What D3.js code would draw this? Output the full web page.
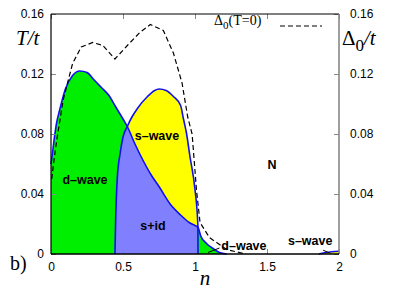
<!DOCTYPE html>
<html>
<head>
<meta charset="utf-8">
<script src="https://cdn.jsdelivr.net/npm/d3@7"></script>
<style>
  body { margin: 0; background: #fff; }
  svg { display: block; }
</style>
</head>
<body>
<div id="chart"></div>
<script>
// d-wave Tc(n)
const nD  = [0, 0.01, 0.02, 0.04, 0.06, 0.1, 0.15, 0.2, 0.25, 0.3, 0.35, 0.4, 0.45, 0.5, 0.53, 0.58, 0.62, 0.7, 0.75, 0.83, 0.9, 0.96, 1.0, 1.02, 1.04, 1.08, 1.12, 1.17, 1.22];
const tcD = [0.06, 0.067, 0.075, 0.088, 0.096, 0.11, 0.119, 0.122, 0.121, 0.116, 0.111, 0.106, 0.098, 0.09, 0.085, 0.074, 0.066, 0.052, 0.045, 0.033, 0.026, 0.021, 0.019, 0.018, 0.012, 0.007, 0.004, 0.001, 0];

// s-wave Tc(n), two pockets
const nS  = [0.444, 0.45, 0.46, 0.48, 0.5, 0.53, 0.56, 0.6, 0.67, 0.72, 0.75, 0.8, 0.85, 0.9, 0.92, 0.94, 0.965, 1.0, 1.02, 1.021];
const tcS = [0, 0.027, 0.05, 0.067, 0.078, 0.085, 0.091, 0.097, 0.105, 0.109, 0.11, 0.109, 0.105, 0.099, 0.09, 0.081, 0.065, 0.043, 0.019, 0];
const nS2  = [1.86, 1.9, 1.95, 2.0];
const tcS2 = [0, 0.0008, 0.0015, 0.0018];

// zero-temperature gap
const nG = [0.005, 0.02, 0.04, 0.085, 0.15, 0.21, 0.29, 0.36, 0.444, 0.53, 0.62, 0.69, 0.78, 0.85, 0.91, 0.95, 0.98, 1.01, 1.035, 1.1, 1.22, 1.35];
const gap = [0.05, 0.062, 0.076, 0.103, 0.127, 0.138, 0.141, 0.139, 0.13, 0.139, 0.148, 0.153, 0.149, 0.134, 0.114, 0.091, 0.08, 0.043, 0.021, 0.011, 0.003, 0];

const xTicks = [0, 0.5, 1, 1.5, 2];
const yTicks = [0, 0.04, 0.08, 0.12, 0.16];

const phaseLabels = [
  { text: "d\u2013wave", n: 0.236, t: 0.0467 },
  { text: "s\u2013wave", n: 0.736, t: 0.076 },
  { text: "s+id",        n: 0.708, t: 0.016 },
  { text: "N",           n: 1.535, t: 0.0567 },
  { text: "d\u2013wave", n: 1.34,  t: 0.0027 },
  { text: "s\u2013wave", n: 1.8,   t: 0.006 }
];
// little pointer lines from labels to the tails
const pointers = [
  { n1: 1.17, t1: 0.004, n2: 1.09, t2: 0.001 },
  { n1: 1.89, t1: 0.0025, n2: 1.94, t2: 0.0005 }
];

const W = 407, H = 291;
const margin = { top: 14, right: 68, bottom: 37, left: 51 };
const iw = W - margin.left - margin.right;
const ih = H - margin.top - margin.bottom;

const GREEN = "#00ee00";
const YELLOW = "#ffff00";
const PURPLE = "#8080ff";
const BLUE = "#1010ee";

const svg = d3.select("#chart").append("svg")
  .attr("width", W)
  .attr("height", H);

const x = d3.scaleLinear().domain([0, 2]).range([0, iw]);
const y = d3.scaleLinear().domain([0, 0.16]).range([ih, 0]);

const g = svg.append("g")
  .attr("transform", `translate(${margin.left},${margin.top})`);

const dData = nD.map((n, i) => [n, tcD[i]]);
const sData = nS.map((n, i) => [n, tcS[i]]);
const s2Data = nS2.map((n, i) => [n, tcS2[i]]);
const gData = nG.map((n, i) => [n, gap[i]]);

let area = d3.area()
  .x(d => x(d[0]))
  .y0(y(0))
  .y1(d => y(d[1]))
  .curve(d3.curveMonotoneX);
let line = d3.line()
  .x(d => x(d[0]))
  .y(d => y(d[1]))
  .curve(d3.curveMonotoneX);

// clip for s+id = below both curves
svg.append("defs").append("clipPath")
  .attr("id", "underD")
  .append("path")
  .attr("d", area(dData));

g.append("path").attr("d", area(dData)).attr("fill", GREEN);
g.append("path").attr("d", area(sData)).attr("fill", YELLOW);
g.append("path").attr("d", area(sData)).attr("fill", PURPLE)
  .attr("clip-path", "url(#underD)");
g.append("path").attr("d", area(s2Data)).attr("fill", YELLOW);

// phase boundaries
[dData, sData, s2Data].forEach(d => {
  g.append("path")
    .attr("d", line(d))
    .attr("fill", "none")
    .attr("stroke", BLUE)
    .attr("stroke-width", 1.6);
});

// gap, dashed
g.append("path")
  .attr("d", d3.line().x(d => x(d[0])).y(d => y(d[1]))(gData))
  .attr("fill", "none")
  .attr("stroke", "#000")
  .attr("stroke-width", 1.2)
  .attr("stroke-dasharray", "5,3");

// axes, ticks pointing inward
let fmt = d => d === 0 ? "0" : String(d);
let tickFont = "'Liberation Sans', Arial, sans-serif";

let axL = g.append("g").call(d3.axisLeft(y).tickValues(yTicks).tickFormat(fmt).tickSizeInner(-5).tickSizeOuter(0).tickPadding(7));
let axR = g.append("g").attr("transform", `translate(${iw},0)`)
  .call(d3.axisRight(y).tickValues(yTicks).tickFormat(fmt).tickSizeInner(-5).tickSizeOuter(0).tickPadding(11));
let axB = g.append("g").attr("transform", `translate(0,${ih})`)
  .call(d3.axisBottom(x).tickValues(xTicks).tickFormat(fmt).tickSizeInner(-5).tickSizeOuter(0).tickPadding(8));
let axT = g.append("g")
  .call(d3.axisTop(x).tickValues(xTicks).tickFormat("").tickSizeInner(-5).tickSizeOuter(0));

[axL, axR, axB, axT].forEach(a => {
  a.select(".domain").remove();
  a.selectAll(".tick line").attr("stroke", "#888");
  a.selectAll("text")
    .style("font-family", tickFont)
    .style("font-size", "12px")
    .attr("fill", "#000");
});

// frame
g.append("line").attr("x1", 0).attr("x2", iw).attr("y1", 0).attr("y2", 0)
  .attr("stroke", "#000").attr("stroke-width", 1.2);
g.append("line").attr("x1", 0).attr("x2", 0).attr("y1", 0).attr("y2", ih)
  .attr("stroke", "#000").attr("stroke-width", 1.2);
g.append("line").attr("x1", iw).attr("x2", iw).attr("y1", 0).attr("y2", ih)
  .attr("stroke", "#888").attr("stroke-width", 1.6);
g.append("line").attr("x1", 0).attr("x2", iw).attr("y1", ih).attr("y2", ih)
  .attr("stroke", "#000").attr("stroke-width", 1.6);

// phase labels
g.selectAll(".phase")
  .data(phaseLabels)
  .join("text")
  .attr("class", "phase")
  .attr("x", d => x(d.n))
  .attr("y", d => y(d.t))
  .attr("text-anchor", "middle")
  .style("font-family", tickFont)
  .style("font-weight", "bold")
  .style("font-size", "12.5px")
  .text(d => d.text);

g.selectAll(".pointer")
  .data(pointers)
  .join("line")
  .attr("x1", d => x(d.n1)).attr("y1", d => y(d.t1))
  .attr("x2", d => x(d.n2)).attr("y2", d => y(d.t2))
  .attr("stroke", "#000")
  .attr("stroke-width", 1);

// legend
let serif = "'Liberation Serif', 'Times New Roman', serif";
let leg = svg.append("text")
  .attr("x", 214).attr("y", 25)
  .style("font-family", serif)
  .style("font-size", "14px");
leg.append("tspan").text("\u0394");
leg.append("tspan").attr("dy", 4).style("font-size", "11px").text("0");
leg.append("tspan").attr("dy", -4).text("(T=0)");
svg.append("line")
  .attr("x1", 280).attr("x2", 322).attr("y1", 26).attr("y2", 26)
  .attr("stroke", "#000").attr("stroke-width", 1.2)
  .attr("stroke-dasharray", "5,3");

// axis titles
svg.append("text")
  .attr("x", 16).attr("y", 45)
  .style("font-family", serif)
  .style("font-size", "21px")
  .style("font-style", "italic")
  .text("T/t");

let tr = svg.append("text")
  .attr("x", 342).attr("y", 45)
  .style("font-family", serif)
  .style("font-size", "21px");
tr.append("tspan").text("\u0394");
tr.append("tspan").attr("dy", 6).style("font-size", "17px").text("0");
tr.append("tspan").attr("dy", -6).style("font-style", "italic").text("/t");

svg.append("text")
  .attr("x", 205).attr("y", 285)
  .attr("text-anchor", "middle")
  .style("font-family", serif)
  .style("font-size", "21px")
  .style("font-style", "italic")
  .text("n");

svg.append("text")
  .attr("x", 10).attr("y", 270)
  .style("font-family", serif)
  .style("font-size", "20px")
  .text("b)");
</script>
</body>
</html>
